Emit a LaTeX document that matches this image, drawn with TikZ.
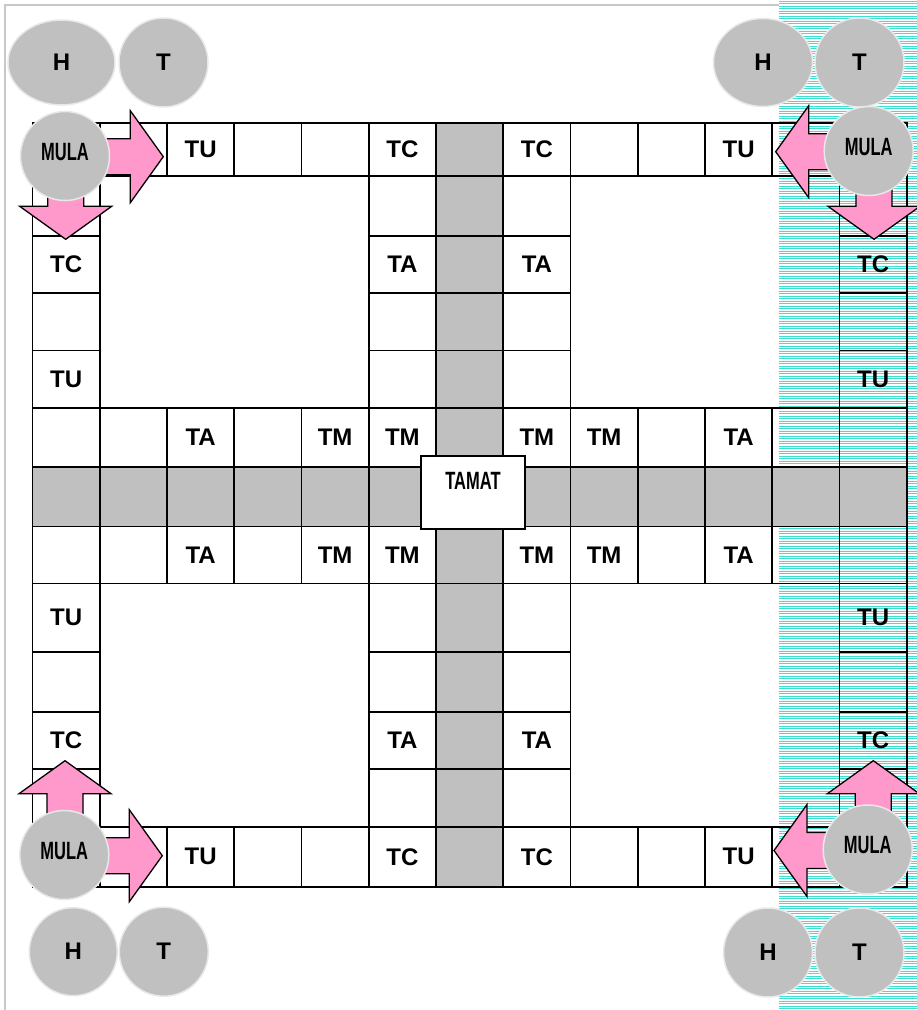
\documentclass[tikz,border=0pt]{standalone}
\usepackage{fontspec}
\setmainfont{Liberation Sans}
\usepackage{tikz}
\usetikzlibrary{positioning,shapes.geometric}
\definecolor{boardgray}{HTML}{C0C0C0}
\definecolor{arrowpink}{HTML}{FF99CC}
\definecolor{stripcyan}{HTML}{40E0D0}
\definecolor{framegray}{HTML}{C8C8C8}
\definecolor{rimgray}{HTML}{E8E8E8}
\def\rowy{122.7,175.7,236,292.7,350.5,407.7,466.7,526.5,583.3,652,711.7,768.7,827,886.7}
\newcommand{\squeeze}[1]{\scalebox{0.66}[1]{\bfseries\fontsize{25}{25}\selectfont #1}}
\newcommand{\blockarrow}[3]{%
  \draw[pinkarrow,shift={(#2,#3)},rotate=#1] (-80,-18) -- (-33,-18) -- (-33,-46) -- (0,0) -- (-33,46) -- (-33,18) -- (-80,18) -- cycle;}

\begin{document}
\begin{tikzpicture}[x=1pt,y=-1pt,node distance=2pt,
  cell/.style={draw,line width=1.6pt,minimum width=67.25pt,inner sep=0pt,outer sep=0pt},
  celltext/.style={inner sep=0pt,font=\bfseries\fontsize{24}{24}\selectfont},
  finish/.style={draw,line width=1.5pt,fill=white,inner sep=0pt,minimum width=104pt,text height=33.5pt,text depth=39.5pt},
  token/.style={circle,fill=boardgray,draw=rimgray,line width=1.5pt,minimum size=89pt,inner sep=0pt,outer sep=0pt,font=\bfseries\fontsize{24}{24}\selectfont},
  home/.style={token,ellipse},
  start/.style={token,text height=18pt,text depth=10pt},
  pinkarrow/.style={fill=arrowpink,draw=black,line width=1.3pt,line join=miter},
  stripe/.style={stripcyan,line width=1.1pt}]
\useasboundingbox (0,0) rectangle (917,1010);
\draw[framegray,line width=1.5pt] (5,1010) -- (5,5) -- (779,5);
\foreach \k in {0,...,403} \draw[stripe] (779,\k*2.5+1.2) -- (917,\k*2.5+1.2);

\foreach \r in {0,...,12}{
  \foreach \c in {0,...,12}{
    \pgfmathtruncatemacro\onboard{(\r==0||\r==12||\c==0||\c==12||(\r>4&&\r<8)||(\c>4&&\c<8))?1:0}
    \pgfmathtruncatemacro\ongray{(\r==6||\c==6)?1:0}
    \pgfmathsetmacro\ya{{\rowy}[\r]}
    \pgfmathsetmacro\yb{{\rowy}[\r+1]}
    \ifnum\onboard=1
      \ifnum\ongray=1 \def\cellfill{boardgray}\else\def\cellfill{none}\fi
      \node[cell,fill=\cellfill,minimum height={\yb-\ya}] (c\r-\c) at ({32.5+67.25*(\c+0.5)},{(\ya+\yb)/2}) {};
    \fi
  }
}
\foreach \r/\c/\t in {0/2/TU,0/5/TC,0/7/TC,0/10/TU,2/0/TC,4/0/TU,8/0/TU,10/0/TC,
  2/12/TC,4/12/TU,8/12/TU,10/12/TC,2/5/TA,2/7/TA,10/5/TA,10/7/TA,
  5/2/TA,5/4/TM,5/5/TM,5/7/TM,5/8/TM,5/10/TA,7/2/TA,7/4/TM,7/5/TM,7/7/TM,7/8/TM,7/10/TA,
  12/2/TU,12/5/TC,12/7/TC,12/10/TU}
  \node[celltext] (t\r-\c) at (c\r-\c) {\t};
\node[finish] (tamat) at (473,492.5) {\squeeze{TAMAT}};

\blockarrow{0}{163.3}{156.7}
\blockarrow{-90}{65.7}{239.3}
\blockarrow{180}{775.7}{151.7}
\blockarrow{-90}{874}{239.3}
\blockarrow{90}{65}{760.7}
\blockarrow{0}{162.3}{855.7}
\blockarrow{90}{873.3}{760.7}
\blockarrow{180}{774}{850.5}

\node[start] (mTL) at (65,156) {\squeeze{MULA}};
\node[start] (mTR) at (868.7,151) {\squeeze{MULA}};
\node[start] (mBL) at (64.3,855) {\squeeze{MULA}};
\node[start] (mBR) at (867.7,849.5) {\squeeze{MULA}};

\node[home,minimum width=107pt,minimum height=85pt] (hTL) at (61.5,62.5) {H};
\node[token,right=4pt of hTL] (tTL) {T};
\node[home,minimum width=99pt,minimum height=88pt] (hTR) at (763,62.5) {H};
\node[token,right=2.5pt of hTR] (tTR) {T};
\node[home,minimum size=88pt] (hBL) at (73.3,951.7) {H};
\node[token,right=2pt of hBL] (tBL) {T};
\node[home,minimum size=89pt] (hBR) at (768,952.5) {H};
\node[token,right=2.5pt of hBR] (tBR) {T};
\end{tikzpicture}
\end{document}
